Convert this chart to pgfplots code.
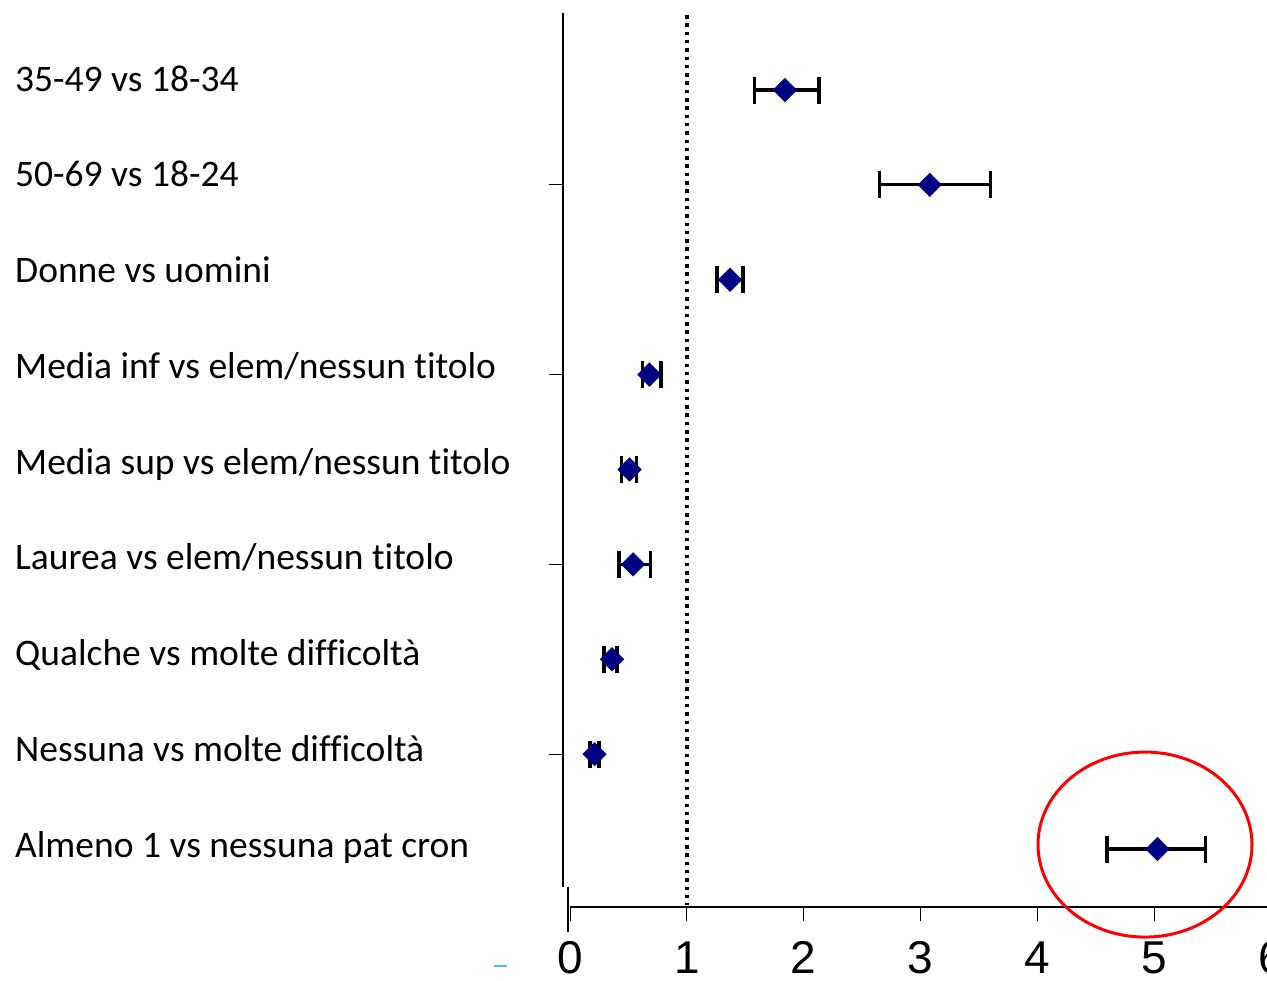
\documentclass[border=0pt]{standalone}
\usepackage{pgfplots}
\usepackage{pgfplotstable}
\pgfplotsset{compat=1.18}
\usepackage{fontspec}
\setmainfont{Carlito}[Ligatures=NoCommon]
\newfontfamily\arialfont{Liberation Sans}

\definecolor{navy}{RGB}{0,0,128}
\definecolor{dashblue}{RGB}{90,180,255}

% pos: 9 = top row, 1 = bottom row; est with lower / upper CI
\pgfplotstableread{
pos est lo hi
9 1.84 1.58 2.13
8 3.08 2.65 3.60
7 1.37 1.26 1.48
6 0.68 0.62 0.78
5 0.51 0.44 0.57
4 0.54 0.42 0.69
3 0.36 0.29 0.40
2 0.21 0.17 0.25
1 5.03 4.60 5.44
}\ortable

\begin{document}
\begin{tikzpicture}
\useasboundingbox (0,0) rectangle (1267bp,-981bp);
\begin{axis}[
  at={(563bp,-13bp)}, anchor=north west,
  scale only axis, width=707.8bp, height=894bp,
  xmin=-0.0599, xmax=6, ymin=0.389, ymax=9.8116,
  clip=false,
  axis x line=bottom, axis y line=left,
  x axis line style={-, black, line width=1.3bp, shorten <=7bp},
  y axis line style={-, black, line width=2bp, shorten <=20bp},
  tick align=outside, major tick length=13.5bp,
  tick style={black, line width=0.9bp},
  xtick={0,1,2,3,4,5,6},
  /pgf/number format/assume math mode=true,
  xticklabel style={font=\arialfont\fontsize{46bp}{50bp}\selectfont,
    anchor=base, inner sep=0pt, yshift=-53bp},
  ytick={2,4,6,8}, yticklabels={,,,},
  extra y ticks={1,2,3,4,5,6,7,8,9},
  extra y tick labels={Almeno 1 vs nessuna pat cron,
    Nessuna vs molte difficoltà, Qualche vs molte difficoltà,
    Laurea vs elem/nessun titolo, Media sup vs elem/nessun titolo,
    Media inf vs elem/nessun titolo, Donne vs uomini,
    50-69 vs 18-24, 35-49 vs 18-34},
  extra y tick style={major tick length=0pt},
  yticklabel style={font=\fontsize{37.5bp}{41bp}\selectfont,
    anchor=base west, inner sep=0pt, xshift=-548bp,
    yshift=-1bp-(8-\ticknum)*0.875bp},
]
  % reference line at 1
  \draw[black, line width=3.5bp, dash pattern=on 3.5bp off 4.8bp]
    (axis cs:1,9.79) -- (axis cs:1,0.41);

  \addplot[only marks, mark=square*, mark size=8.3bp,
    mark options={rotate=45, draw=navy, fill=navy, line width=0.5bp},
    error bars/.cd, x dir=both, x explicit, error mark=|,
    error bar style={black, line width=3.2bp},
    error mark options={black, line width=3.6bp, mark size=13.5bp}]
    table[x=est, y=pos,
      x error plus expr=\thisrow{hi}-\thisrow{est},
      x error minus expr=\thisrow{est}-\thisrow{lo}] {\ortable};

  % highlight ring
  \draw[red, line width=3bp] (axis cs:4.923,1.047)
    ellipse [x radius=107bp, y radius=92.5bp];
  % stray stub at the origin
  \draw[black, line width=2bp] (axis cs:-0.017,0.6) -- (axis cs:-0.017,0.125);
\end{axis}
\draw[dashblue, line width=1.5bp] (494bp,-966bp) -- (507bp,-966bp);
\end{tikzpicture}
\end{document}
